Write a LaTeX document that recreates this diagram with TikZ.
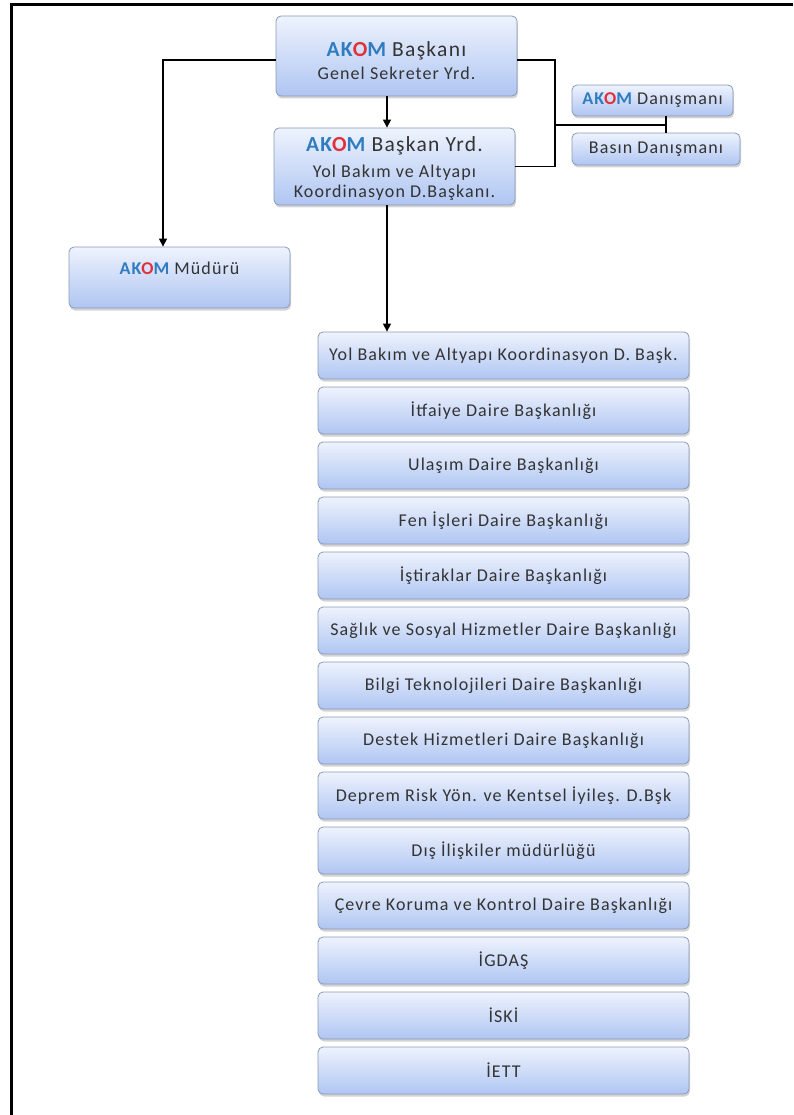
\documentclass[tikz,border=0pt]{standalone}
\usepackage{fontspec}
\setmainfont{Carlito}[LetterSpace=6]
\usetikzlibrary{shadows,arrows.meta}
\definecolor{boxtop}{HTML}{EEF3FD}
\definecolor{boxbot}{HTML}{AFC5F2}
\definecolor{boxborder}{HTML}{8A9AB8}
\definecolor{txt}{HTML}{333333}
\definecolor{akblue}{HTML}{2F7DC0}
\definecolor{akred}{HTML}{E0303C}
\newcommand\akom{{\bfseries\color{akblue}AK\color{akred}O\color{akblue}M}}
\newcommand\lfont{\fontsize{18}{21}\selectfont}
\newcommand\bigf{\fontsize{21.5}{24}\selectfont}
\tikzset{
  box/.style={draw=boxborder, line width=0.8pt, rounded corners=5pt,
    top color=boxtop, bottom color=boxbot,
    drop shadow={shadow xshift=1pt, shadow yshift=-2.5pt, opacity=0.35},
    text=txt, font=\lfont, align=center, inner sep=0pt},
  item/.style={box, minimum width=371pt, minimum height=47pt},
  conn/.style={line width=1.3pt, black},
  arr/.style={conn, -{Triangle[width=8pt,length=8pt]}},
  frame/.style={line width=3pt, black}
}
\begin{document}
\begin{tikzpicture}[x=1pt,y=-1pt]
\useasboundingbox (0,0) rectangle (793,1115);
\draw[frame] (11,1115) -- (11,5) -- (793,5);
\coordinate (ax) at (387,0);
\coordinate (lx) at (163,0);
\coordinate (rx) at (555,0);
\coordinate (jn) at (666,125);
\node[box, minimum width=241pt, minimum height=80pt] (b1) at (396.5,56)
  {{\bigf\rule{0pt}{24pt}\akom\ Başkanı}\\[2pt]Genel Sekreter Yrd.};
\node[box, minimum width=241pt, minimum height=77pt] (b2) at (394.5,166.5)
  {{\bigf\rule{0pt}{20pt}\akom\ Başkan Yrd.}\\[5pt]Yol Bakım ve Altyapı\\[-1pt]Koordinasyon D.Başkanı.};
\node[box, minimum width=221pt, minimum height=61pt, text depth=18pt] (mud) at (179.5,277.5)
  {\akom\ Müdürü};
\node[box, minimum width=161pt, minimum height=31pt] (dan) at (652.5,100.5)
  {\akom\ Danışmanı};
\node[box, minimum width=168pt, minimum height=32pt] (bas) at (656,149)
  {Basın Danışmanı};
\foreach \t [count=\i from 0] in {
  Yol Bakım ve Altyapı Koordinasyon D. Başk.,
  İtfaiye Daire Başkanlığı,
  Ulaşım Daire Başkanlığı,
  Fen İşleri Daire Başkanlığı,
  İştiraklar Daire Başkanlığı,
  Sağlık ve Sosyal Hizmetler Daire Başkanlığı,
  Bilgi Teknolojileri Daire Başkanlığı,
  Destek Hizmetleri Daire Başkanlığı,
  Deprem Risk Yön. ve Kentsel İyileş. D.Bşk,
  Dış İlişkiler müdürlüğü,
  Çevre Koruma ve Kontrol Daire Başkanlığı,
  İGDAŞ,
  İSKİ,
  İETT}
  \node[item] (l\i) at (503.5,{355.5+55*\i}) {\t};
\draw[arr] (b1.south -| ax) -- (b2.north -| ax);
\draw[arr] ([yshift=-4pt]b1.west) -| (mud.north -| lx);
\draw[conn] ([yshift=-4pt]b1.east) -| (b2.east -| rx) -- (b2.east);
\draw[conn] (jn -| rx) -- (jn);
\draw[conn] (dan.south -| jn) -- (bas.north -| jn);
\draw[arr] (b2.south -| ax) -- (l0.north -| ax);
\end{tikzpicture}
\end{document}
